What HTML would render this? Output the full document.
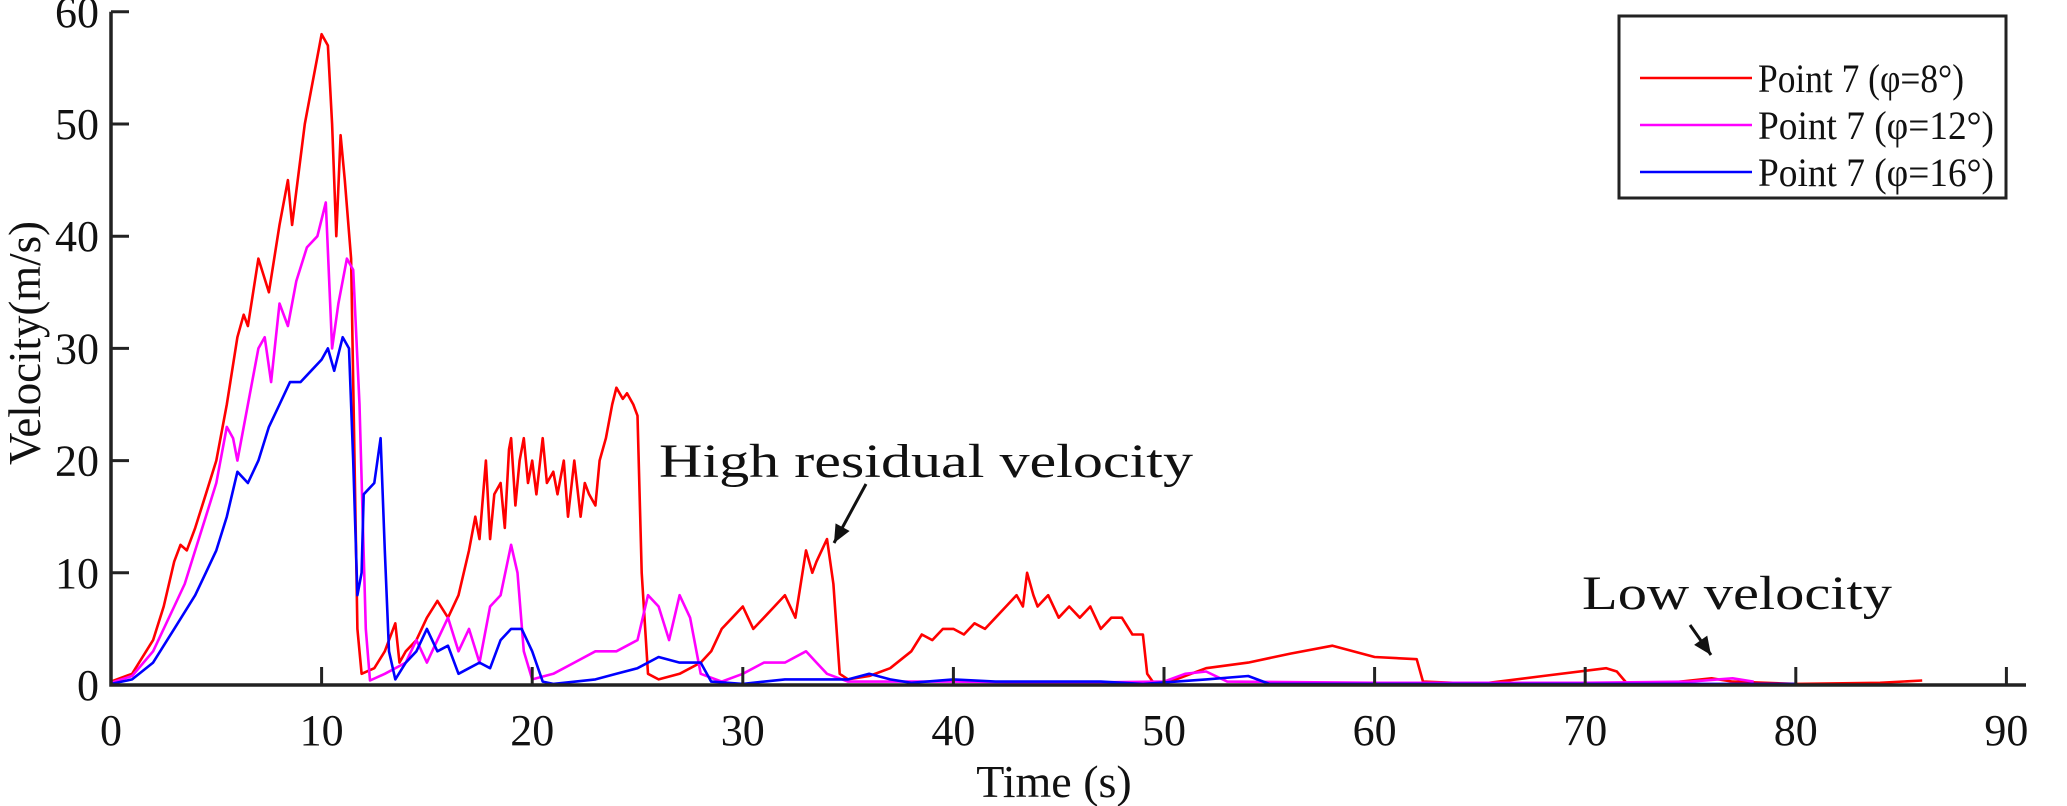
<!DOCTYPE html>
<html><head><meta charset="utf-8"><style>
body{margin:0;background:#fff}
svg{display:block;font-family:"Liberation Serif",serif}
</style></head><body>
<svg id="chart" width="2067" height="806" viewBox="0 0 2067 806" xmlns="http://www.w3.org/2000/svg"></svg>
<script>
const xTicks=[0,10,20,30,40,50,60,70,80,90];
const yTicks=[0,10,20,30,40,50,60];
const redT=[0,1,2,2.5,3,3.3,3.6,4,4.5,5,5.5,6,6.3,6.5,7,7.5,8,8.4,8.6,8.8,9.2,9.5,9.8,10,10.3,10.5,10.7,10.9,11.1,11.4,11.7,11.9,12.5,13,13.5,13.7,14,14.5,15,15.5,16,16.5,17,17.3,17.5,17.8,18,18.2,18.5,18.7,18.9,19,19.2,19.4,19.6,19.8,20,20.2,20.5,20.7,21,21.2,21.5,21.7,22,22.3,22.5,22.7,23,23.2,23.5,23.8,24,24.3,24.5,24.8,25,25.2,25.5,26,27,28,28.5,29,29.5,30,30.5,31,31.5,32,32.5,33,33.3,33.5,34,34.3,34.6,35,36,37,38,38.5,39,39.5,40,40.5,41,41.5,42,42.5,43,43.3,43.5,43.8,44,44.5,45,45.5,46,46.5,47,47.5,48,48.5,49,49.2,49.5,50,51,52,54,56,58,60,62,62.3,65,68,71,71.5,72,74,76,77,80,84,86];
const redV=[0.3,1,4,7,11,12.5,12,14,17,20,25,31,33,32,38,35,41,45,41,44,50,53,56,58,57,50,40,49,45,38,5,1,1.5,3,5.5,2,3,4,6,7.5,6,8,12,15,13,20,13,17,18,14,21,22,16,20,22,18,20,17,22,18,19,17,20,15,20,15,18,17,16,20,22,25,26.5,25.5,26,25,24,10,1,0.5,1,2,3,5,6,7,5,6,7,8,6,12,10,11,13,9,1,0.5,0.8,1.5,3,4.5,4,5,5,4.5,5.5,5,6,7,8,7,10,8,7,8,6,7,6,7,5,6,6,4.5,4.5,1,0.2,0.1,0.8,1.5,2,2.8,3.5,2.5,2.3,0.3,0.1,0.8,1.5,1.2,0.1,0.2,0.6,0.3,0.1,0.2,0.4];
const magT=[0,1,2,3,3.5,4,4.5,5,5.5,5.8,6,6.5,7,7.3,7.6,8,8.4,8.8,9.3,9.8,10.2,10.5,10.8,11.2,11.5,11.8,12.1,12.3,13,14,14.5,15,15.5,16,16.5,17,17.5,18,18.5,19,19.3,19.6,20,21,22,23,24,25,25.5,26,26.5,27,27.5,28,29,30,31,32,33,33.5,34,35,40,45,50,51,52,53,60,65,70,75,77,78];
const magV=[0.2,0.8,3,7,9,12,15,18,23,22,20,25,30,31,27,34,32,36,39,40,43,30,34,38,37,25,5,0.4,1,2,4,2,4,6,3,5,2,7,8,12.5,10,3,0.5,1,2,3,3,4,8,7,4,8,6,1,0.3,1,2,2,3,2,1,0.3,0.3,0.2,0.3,1,1.2,0.3,0.2,0.2,0.2,0.3,0.6,0.3];
const bluT=[0,1,2,3,4,4.5,5,5.5,6,6.5,7,7.5,8,8.5,9,9.5,10,10.3,10.6,11,11.3,11.5,11.7,11.9,12,12.5,12.8,13,13.2,13.5,14,14.5,15,15.5,16,16.5,17,17.5,18,18.5,19,19.5,20,20.5,21,23,24,25,26,27,28,28.5,30,32,35,36,37,38,40,42,45,47,49,52,54,55,60,70,80];
const bluV=[0.1,0.5,2,5,8,10,12,15,19,18,20,23,25,27,27,28,29,30,28,31,30,20,8,10,17,18,22,12,3,0.5,2,3,5,3,3.5,1,1.5,2,1.5,4,5,5,3,0.3,0.1,0.5,1,1.5,2.5,2,2,0.3,0.1,0.5,0.5,1,0.5,0.2,0.5,0.3,0.3,0.3,0.1,0.5,0.8,0.1,0.1,0.1,0.1];

const NS="http://www.w3.org/2000/svg";
const svg=document.getElementById('chart');
const X0=111,XU=21.06,Y0=685,YU=11.22;
const sx=t=>X0+t*XU, sy=v=>Y0-v*YU;
function mk(tag,attrs,parent){const e=document.createElementNS(NS,tag);for(const k in attrs)e.setAttribute(k,attrs[k]);(parent||svg).appendChild(e);return e;}

function series(T,V,color,name){
  let d='';T.forEach((t,i)=>{d+=(i?'L':'M')+sx(t).toFixed(1)+' '+sy(V[i]).toFixed(1)});
  const p=mk('path',{d:d,fill:'none',stroke:color,'stroke-width':2.6,'stroke-linejoin':'round'});
  
  
}
series(redT,redV,'#ff0000','series-phi-8');
series(magT,magV,'#ff00ff','series-phi-12');
series(bluT,bluV,'#0000ff','series-phi-16');

const ax=mk('path',{d:`M${X0} ${sy(60)} V${Y0} H2026`,fill:'none',stroke:'#222','stroke-width':3.5});


yTicks.forEach(v=>{
  const t=mk('line',{x1:X0,x2:X0+18,y1:sy(v),y2:sy(v),stroke:'#222','stroke-width':3});
  
  
  const l=mk('text',{x:X0-12,y:sy(v)+15,'font-size':44,'text-anchor':'end',fill:'#111'});
  l.textContent=v;
  
  
});
xTicks.forEach(v=>{
  const t=mk('line',{x1:sx(v),x2:sx(v),y1:Y0,y2:Y0-18,stroke:'#222','stroke-width':3});
  
  
  const l=mk('text',{x:sx(v),y:Y0+60,'font-size':44,'text-anchor':'middle',fill:'#111'});
  l.textContent=v;
  
  
});
const xt=mk('text',{x:1054,y:797,'font-size':46,'text-anchor':'middle',fill:'#111'});
xt.textContent='Time (s)';


const yt=mk('text',{x:0,y:0,'font-size':46,'text-anchor':'middle',fill:'#111',transform:'translate(40,343) rotate(-90)',textLength:244,lengthAdjust:'spacingAndGlyphs'});
yt.textContent='Velocity(m/s)';



const a1=mk('text',{x:659,y:477,'font-size':48,fill:'#111',textLength:534,lengthAdjust:'spacingAndGlyphs'});
a1.textContent='High residual velocity';


const a2=mk('text',{x:1582,y:609,'font-size':48,fill:'#111',textLength:310,lengthAdjust:'spacingAndGlyphs'});
a2.textContent='Low velocity';


function arrow(x1,y1,x2,y2,name){
  const g=mk('g',{});
  
  
  mk('line',{x1,y1,x2,y2,stroke:'#111','stroke-width':3},g);
  const ang=Math.atan2(y2-y1,x2-x1),L=18,W=8;
  const bx=x2-L*Math.cos(ang),by=y2-L*Math.sin(ang);
  const px=-Math.sin(ang)*W,py=Math.cos(ang)*W;
  mk('polygon',{points:`${x2},${y2} ${bx+px},${by+py} ${bx-px},${by-py}`,fill:'#111'},g);
}
arrow(866,484,834,543,'arrow-high-residual');
arrow(1690,625,1711,655,'arrow-low-velocity');

const lg=mk('g',{});


mk('rect',{x:1619,y:16,width:387,height:182,fill:'#fff',stroke:'#222','stroke-width':3},lg);
const labels=['Point 7 (\u03C6=8\u00B0)','Point 7 (\u03C6=12\u00B0)','Point 7 (\u03C6=16\u00B0)'];
const cols=['#ff0000','#ff00ff','#0000ff'];
labels.forEach((s,i)=>{
  const y=78+i*47;
  const e=mk('g',{},lg);
  
  
  mk('line',{x1:1640,x2:1752,y1:y,y2:y,stroke:cols[i],'stroke-width':2.5},e);
  const t=mk('text',{x:1758,y:y+14,'font-size':40,fill:'#111',textLength:(i?236:206),lengthAdjust:'spacingAndGlyphs'},e);
  t.textContent=s;
});
</script>
</body></html>
